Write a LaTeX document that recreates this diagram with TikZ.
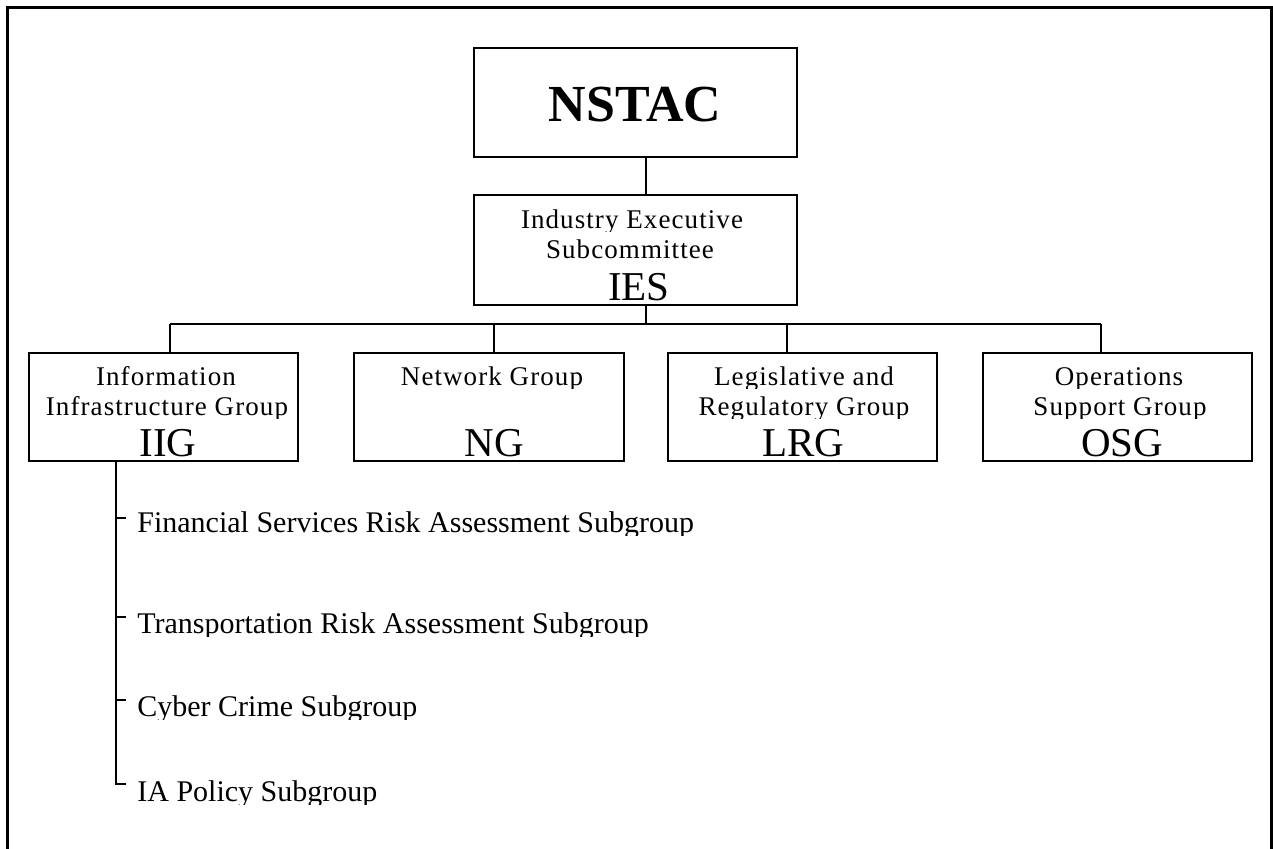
\documentclass[tikz,border=0pt]{standalone}
\usepackage{fontspec}
\setmainfont{Liberation Serif}
\newfontfamily\spacedfont[LetterSpace=4]{Liberation Serif}
\newcommand\cutlabel[5]{%
  \begin{scope}
    \clip (0,#3-90) rectangle (1273,#3+3);
    \node[#4] (#1) at (#2,#3) {#5};
  \end{scope}}
\begin{document}
\begin{tikzpicture}[x=0.5pt,y=-0.5pt,
  box/.style={draw, line width=0.9pt, inner sep=0pt, outer sep=0pt},
  conn/.style={line width=0.9pt},
  framestyle/.style={line width=1.5pt},
  small/.style={font=\spacedfont\fontsize{13.5pt}{16pt}\selectfont, inner sep=0pt, anchor=base},
  acr/.style={font=\fontsize{20.5pt}{24pt}\selectfont, inner sep=0pt, anchor=base},
  titlestyle/.style={font=\bfseries\fontsize{26pt}{30pt}\selectfont, inner sep=0pt, anchor=base},
  sub/.style={font=\fontsize{15pt}{18pt}\selectfont, inner sep=0pt, anchor=base west}]
\useasboundingbox (0,0) rectangle (1273,848);
\clip (0,0) rectangle (1273,848);

% outer frame (open at the bottom of the page)
\draw[framestyle] (7.5,870) -- (7.5,7.5) -- (1271.5,7.5) -- (1271.5,870);

% boxes
\node[box, minimum width=161.5pt, minimum height=54.5pt] (nstac) at (635.5,102.5) {};
\node[box, minimum width=161.5pt, minimum height=55pt]   (ies)   at (635.5,250) {};
\node[box, minimum width=134.5pt, minimum height=54pt]   (iig)   at (163.5,407) {};
\node[box, minimum width=135pt,   minimum height=54pt]   (ng)    at (489,407) {};
\node[box, minimum width=134.5pt, minimum height=54pt]   (lrg)   at (802.5,407) {};
\node[box, minimum width=134.5pt, minimum height=54pt]   (osg)   at (1117.5,407) {};

% box texts
\cutlabel{tNSTAC}{635}{121}{titlestyle}{NSTAC}
\cutlabel{tIES1}{632}{228.5}{small}{Industry Executive}
\cutlabel{tIES2}{630}{258.5}{small}{Subcommittee}
\cutlabel{tIES3}{639}{300}{acr}{IES}

\cutlabel{tIIG1}{166}{385}{small}{Information}
\cutlabel{tIIG2}{167}{415}{small}{Infrastructure Group}
\cutlabel{tIIG3}{168}{456.7}{acr}{IIG}

\cutlabel{tNG1}{492}{385}{small}{Network Group}
\cutlabel{tNG3}{494}{456.7}{acr}{NG}

\cutlabel{tLRG1}{804}{385}{small}{Legislative and}
\cutlabel{tLRG2}{804}{415}{small}{Regulatory Group}
\cutlabel{tLRG3}{803}{456.7}{acr}{LRG}

\cutlabel{tOSG1}{1119}{385}{small}{Operations}
\cutlabel{tOSG2}{1120}{415}{small}{Support Group}
\cutlabel{tOSG3}{1122}{456.7}{acr}{OSG}

% connectors
\coordinate (bus) at (646,323.7);
\coordinate (b1) at (170,323.7);
\coordinate (b2) at (494,323.7);
\coordinate (b3) at (787,323.7);
\coordinate (b4) at (1101,323.7);
\draw[conn] (nstac.south -| bus) -- (ies.north -| bus);
\draw[conn] (ies.south -| bus) -- (bus);
\draw[conn] (b1) -- (b4);
\draw[conn] (b1) -- (iig.north -| b1);
\draw[conn] (b2) -- (ng.north -| b2);
\draw[conn] (b3) -- (lrg.north -| b3);
\draw[conn] (b4) -- (osg.north -| b4);

% subgroups
\cutlabel{s1}{137}{532.7}{sub}{Financial Services Risk Assessment Subgroup}
\cutlabel{s2}{137}{633.5}{sub}{Transportation Risk Assessment Subgroup}
\cutlabel{s3}{137}{716}{sub}{Cyber Crime Subgroup}
\cutlabel{s4}{137}{801}{sub}{IA Policy Subgroup}

\coordinate (trunk) at (116,461);
\coordinate (t1) at (126,518);
\coordinate (t2) at (126,616.6);
\coordinate (t3) at (126,700);
\coordinate (t4) at (126,784.3);
\draw[conn] (iig.south -| trunk) |- (t4);
\draw[conn] (t1 -| trunk) -- (t1);
\draw[conn] (t2 -| trunk) -- (t2);
\draw[conn] (t3 -| trunk) -- (t3);
\end{tikzpicture}
\end{document}
